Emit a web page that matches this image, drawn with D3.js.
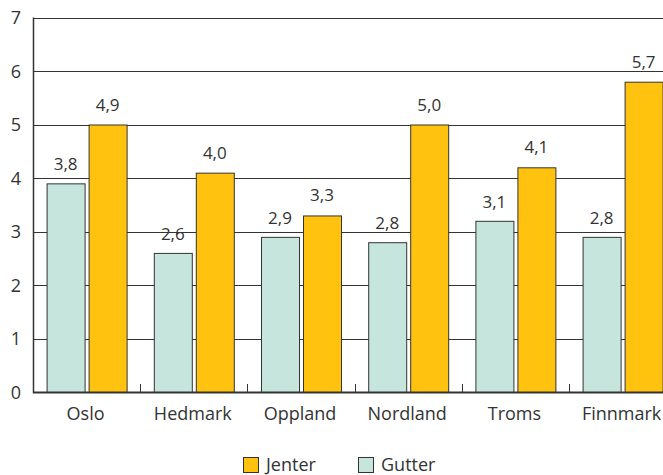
<!DOCTYPE html>
<html><head><meta charset="utf-8">
<script src="https://cdn.jsdelivr.net/npm/d3@7"></script>
<style>body{margin:0;background:#fff}svg{display:block;font-family:"Open Sans","Noto Sans",sans-serif}</style>
</head><body><svg id="c" width="663" height="475"></svg>
<script>
const categories = ["Oslo","Hedmark","Oppland","Nordland","Troms","Finnmark"];
const gutterValues = [3.9,2.6,2.9,2.8,3.2,2.9];
const jenterValues = [5.0,4.1,3.3,5.0,4.2,5.8];
const gutterLabels = ["3,8","2,6","2,9","2,8","3,1","2,8"];
const jenterLabels = ["4,9","4,0","3,3","5,0","4,1","5,7"];
const yTicks = [0,1,2,3,4,5,6,7];

const svg = d3.select("#c");
const mLeft = 33, mBottom = 392, mTop = 17.5, bandStep = 107.2;
const x = d3.scaleBand().domain(categories).range([mLeft, mLeft + bandStep*categories.length]).paddingInner(0).paddingOuter(0);
const y = d3.scaleLinear().domain([0,7]).range([mBottom, mTop]);
const dark = "#333";

// grid lines
svg.append("g").selectAll("line").data(yTicks.filter(d=>d>0)).join("line")
  .attr("x1", mLeft).attr("x2", 663).attr("y1", d=>Math.round(y(d))+0.5).attr("y2", d=>Math.round(y(d))+0.5)
  .attr("stroke", dark).attr("stroke-width", 1);

// y labels
svg.append("g").selectAll("text").data(yTicks).join("text")
  .attr("x", 21).attr("y", d=>y(d)+6.5).attr("text-anchor","end")
  .attr("font-size", 18).attr("fill", dark).text(d=>d);

const bw = 38, gap = 4;
const groups = categories.map((c,i)=>({c, i}));
svg.append("g").selectAll("rect").data(groups).join("rect")
  .attr("x", d=>x(d.c)+x.bandwidth()/2 - gap/2 - bw + 0.5)
  .attr("y", d=>y(gutterValues[d.i])+0.5)
  .attr("width", bw).attr("height", d=>mBottom - y(gutterValues[d.i]))
  .attr("fill", "#c6e6dd").attr("stroke", dark).attr("stroke-width", 1);
svg.append("g").selectAll("rect").data(groups).join("rect")
  .attr("x", d=>x(d.c)+x.bandwidth()/2 + gap/2 + 0.5)
  .attr("y", d=>y(jenterValues[d.i])+0.5)
  .attr("width", bw).attr("height", d=>mBottom - y(jenterValues[d.i]))
  .attr("fill", "#ffc20e").attr("stroke", dark).attr("stroke-width", 1);

// value labels
svg.append("g").selectAll("text").data(groups).join("text")
  .attr("x", d=>x(d.c)+x.bandwidth()/2 - gap/2 - bw/2)
  .attr("y", d=>y(gutterValues[d.i]) - 13)
  .attr("text-anchor","middle").attr("font-size", 17).attr("fill", dark)
  .text(d=>gutterLabels[d.i]);
svg.append("g").selectAll("text").data(groups).join("text")
  .attr("x", d=>x(d.c)+x.bandwidth()/2 + gap/2 + bw/2)
  .attr("y", d=>y(jenterValues[d.i]) - 14)
  .attr("text-anchor","middle").attr("font-size", 17).attr("fill", dark)
  .text(d=>jenterLabels[d.i]);

// axis lines
svg.append("line").attr("x1", mLeft+0.5).attr("x2", mLeft+0.5).attr("y1", mTop).attr("y2", mBottom+1)
  .attr("stroke", dark).attr("stroke-width", 1.5);
svg.append("line").attr("x1", mLeft).attr("x2", 663).attr("y1", mBottom+0.5).attr("y2", mBottom+0.5)
  .attr("stroke", dark).attr("stroke-width", 2);
svg.append("g").selectAll("line").data(categories.slice(1)).join("line")
  .attr("x1", d=>Math.round(x(d))+0.5).attr("x2", d=>Math.round(x(d))+0.5)
  .attr("y1", mBottom).attr("y2", mBottom-8).attr("stroke", dark).attr("stroke-width", 1);

// category labels
svg.append("g").selectAll("text").data(categories).join("text")
  .attr("x", d=>x(d)+x.bandwidth()/2 - 1).attr("y", 420)
  .attr("text-anchor","middle").attr("font-size", 18).attr("fill", dark).text(d=>d);

// legend
const legend = [{label:"Jenter", color:"#ffc20e", x:243},{label:"Gutter", color:"#c6e6dd", x:358}];
const lg = svg.append("g").selectAll("g").data(legend).join("g");
lg.append("rect").attr("x", d=>d.x+0.5).attr("y", 457.5).attr("width", 15).attr("height", 15)
  .attr("fill", d=>d.color).attr("stroke", dark);
lg.append("text").attr("x", d=>d.x+23).attr("y", 471).attr("font-size", 18).attr("fill", dark).text(d=>d.label);
</script></body></html>
